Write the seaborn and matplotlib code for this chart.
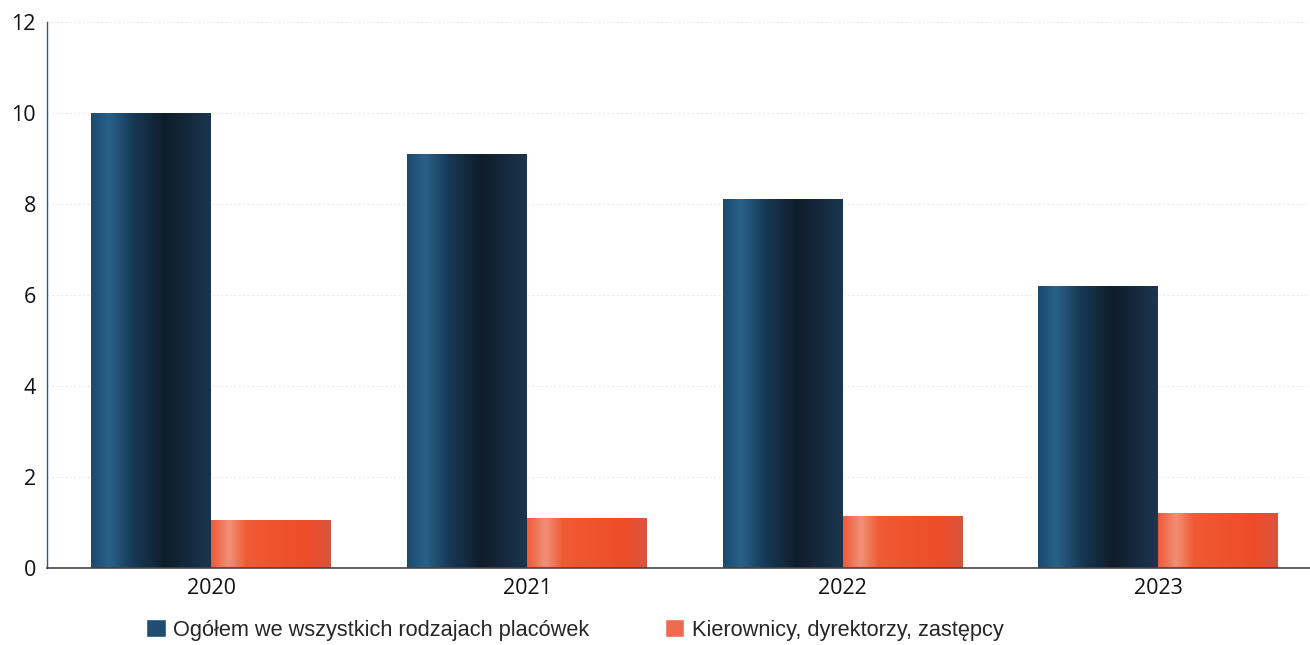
import numpy as np
import pandas as pd
import matplotlib
matplotlib.use("Agg")
import matplotlib.pyplot as plt
from matplotlib.colors import LinearSegmentedColormap
from matplotlib.patches import Patch
import seaborn as sns

# dane
lata = ["2020", "2021", "2022", "2023"]
ogolem = [10.0, 9.1, 8.1, 6.2]
kierownicy = [1.05, 1.1, 1.14, 1.2]
serie = ["Ogółem we wszystkich rodzajach placówek", "Kierownicy, dyrektorzy, zastępcy"]
kolory = ["#1b4566", "#f0502c"]

df = pd.DataFrame({
    "rok": lata * 2,
    "wartosc": ogolem + kierownicy,
    "seria": [serie[0]] * len(lata) + [serie[1]] * len(lata),
})

sns.set_style("white")
plt.rcParams["font.family"] = ["Open Sans", "DejaVu Sans"]

fig = plt.figure(figsize=(13.1, 6.45), dpi=100)
ax = fig.add_axes([47 / 1310, 1 - 568 / 645, 1 - 47 / 1310, 546 / 645])

sns.barplot(data=df, x="rok", y="wartosc", hue="seria", palette=kolory,
            width=0.76, gap=0, saturation=1, legend=False, ax=ax)

# gradient "walca" na słupkach
cmap_dark = LinearSegmentedColormap.from_list("dark", [
    (0.0, "#1b4a6e"), (0.15, "#2a6189"), (0.35, "#173a57"),
    (0.62, "#0f1c2a"), (1.0, "#1c3650")])
cmap_orange = LinearSegmentedColormap.from_list("orange", [
    (0.0, "#ee5a38"), (0.15, "#f28f76"), (0.3, "#f05a34"),
    (0.8, "#ef4c28"), (1.0, "#da543e")])
grad = np.linspace(0, 1, 256).reshape(1, -1)

for p in list(ax.patches):
    h = p.get_height()
    if h <= 0:
        continue
    x0, y0, w = p.get_x(), p.get_y(), p.get_width()
    cm = cmap_orange if p.get_facecolor()[0] > 0.5 else cmap_dark
    im = ax.imshow(grad, cmap=cm, aspect="auto", extent=[x0, x0 + w, y0, y0 + h],
                   zorder=p.get_zorder() + 0.1, interpolation="bilinear")
    im.set_clip_path(p)

ax.set_xlim(-0.52, 3.48)
ax.set_ylim(0, 12)
ax.set_yticks(range(0, 13, 2))
ax.set_xlabel("")
ax.set_ylabel("")
ax.yaxis.grid(True, color="#ebebeb", lw=0.8, ls=(0, (2, 2)))
ax.set_axisbelow(True)

for s in ["top", "right"]:
    ax.spines[s].set_visible(False)
ax.spines["left"].set_color("#2a5a8a")
ax.spines["left"].set_linewidth(1.0)
ax.spines["bottom"].set_color("#444444")
ax.spines["bottom"].set_linewidth(1.2)
ax.tick_params(axis="both", length=0, labelsize=15.5, colors="#111111")
ax.tick_params(axis="y", pad=8)
ax.tick_params(axis="x", pad=7)

handles = [Patch(facecolor="#1f4e72"), Patch(facecolor="#f06a50")]
fig.legend(handles, serie, loc="center left", bbox_to_anchor=(146 / 1310, 1 - 630 / 645),
           ncol=2, frameon=False, borderpad=0, borderaxespad=0,
           handlelength=0.9, handleheight=0.9, handletextpad=0.35, columnspacing=3.45,
           prop={"family": ["Liberation Sans"], "size": 15.7})

fig.savefig("out.png", dpi=100)
